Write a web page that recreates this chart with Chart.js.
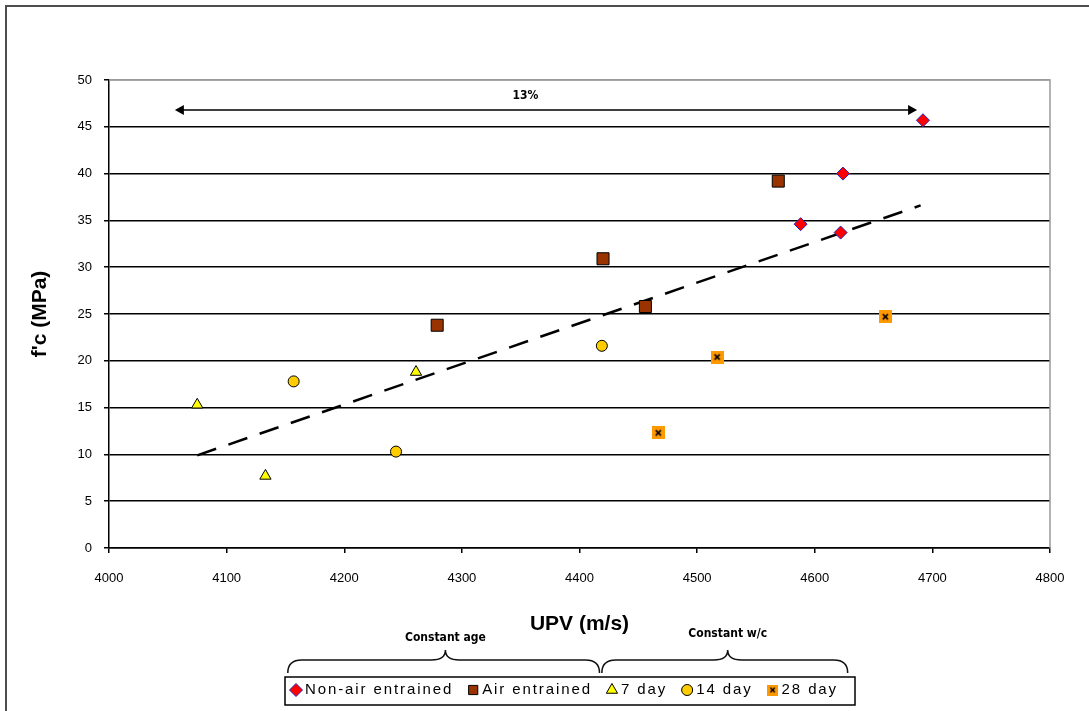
<!DOCTYPE html>
<html>
<head>
<meta charset="utf-8">
<script src="https://cdn.jsdelivr.net/npm/chart.js@4.4.0/dist/chart.umd.min.js"></script>
<style>
html, body { margin: 0; padding: 0; background: #fff; }
#wrap { width: 1089px; height: 711px; }
</style>
</head>
<body>
<div id="wrap"><canvas id="scatter-chart" width="1089" height="711"></canvas></div>
<script>
// values
var nonAirX = [4692, 4624, 4588, 4622];
var nonAirY = [45.7, 40.0, 34.6, 33.7];
var airX = [4569, 4420, 4456, 4279];
var airY = [39.2, 30.9, 25.8, 23.8];
var day7X = [4075, 4133, 4261];
var day7Y = [15.3, 7.7, 18.8];
var day14X = [4157, 4244, 4419];
var day14Y = [17.8, 10.3, 21.6];
var day28X = [4517, 4467, 4660];
var day28Y = [20.4, 12.3, 24.7];
var trendX = [4075, 4690];
var trendY = [9.9, 36.6];

var seriesNames = ['Non-air entrained', 'Air entrained', '7 day', '14 day', '28 day'];
var xTicks = [4000, 4100, 4200, 4300, 4400, 4500, 4600, 4700, 4800];
var yTicks = [0, 5, 10, 15, 20, 25, 30, 35, 40, 45, 50];

// spread arrow and the two braces under the axis
var arrowX = [4056, 4687];
var arrowY = 46.8;
var arrowText = '13%';
var arrowTextAt = [4354, 48.3];
var braceNames = ['Constant age', 'Constant w/c'];
var braceFrom = [4152, 4419];
var braceTip = [4286, 4526];
var braceTo = [4417, 4628];

function pts(xs, ys) {
	return xs.map(function (x, i) { return { x: x, y: ys[i] }; });
}

// orange square with a small x for the 28 day marks
function makeMark28(size) {
	var cv = document.createElement('canvas');
	cv.width = size;
	cv.height = size;
	var c = cv.getContext('2d');
	var m = size / 2, d = size * 0.2;
	c.fillStyle = '#ff9900';
	c.fillRect(0, 0, size, size);
	c.strokeStyle = '#000';
	c.lineWidth = 1.6;
	c.beginPath();
	c.moveTo(m - d, m - d); c.lineTo(m + d, m + d);
	c.moveTo(m + d, m - d); c.lineTo(m - d, m + d);
	c.stroke();
	return cv;
}
var mark28 = makeMark28(13);
var mark28small = makeMark28(11);

var tickFont = { family: 'Arial, "Liberation Sans", sans-serif', size: 13 };
var noteFont = 'bold 12px "Liberation Sans Narrow", "DejaVu Sans Condensed", sans-serif';

function brace(ctx, x1, xm, x2, yEnd, yMid, yTip) {
	var r = 14;
	ctx.beginPath();
	ctx.moveTo(x1, yEnd);
	ctx.quadraticCurveTo(x1, yMid, x1 + r, yMid);
	ctx.lineTo(xm - r, yMid);
	ctx.quadraticCurveTo(xm, yMid, xm, yTip);
	ctx.quadraticCurveTo(xm, yMid, xm + r, yMid);
	ctx.lineTo(x2 - r, yMid);
	ctx.quadraticCurveTo(x2, yMid, x2, yEnd);
	ctx.stroke();
}

var decorations = {
	id: 'decorations',
	beforeDraw: function (chart) {
		var ctx = chart.ctx;
		ctx.save();
		ctx.fillStyle = '#fff';
		ctx.fillRect(0, 0, chart.width, chart.height);
		ctx.restore();
	},
	beforeDatasetsDraw: function (chart) {
		var ctx = chart.ctx, a = chart.chartArea;
		ctx.save();
		ctx.strokeStyle = '#9a9a9a';
		ctx.lineWidth = 1.5;
		ctx.beginPath();
		ctx.moveTo(a.left, a.top);
		ctx.lineTo(a.right, a.top);
		ctx.lineTo(a.right, a.bottom);
		ctx.stroke();
		ctx.restore();
	},
	afterDraw: function (chart) {
		var ctx = chart.ctx, xs = chart.scales.x, ys = chart.scales.y;
		ctx.save();

		// outer frame
		ctx.strokeStyle = '#4d4d4d';
		ctx.lineWidth = 2;
		ctx.beginPath();
		ctx.moveTo(6, chart.height);
		ctx.lineTo(6, 6);
		ctx.lineTo(chart.width, 6);
		ctx.stroke();

		// 13% arrow
		var ax1 = xs.getPixelForValue(arrowX[0]), ax2 = xs.getPixelForValue(arrowX[1]);
		var ay = ys.getPixelForValue(arrowY);
		ctx.strokeStyle = '#000';
		ctx.fillStyle = '#000';
		ctx.lineWidth = 1.5;
		ctx.beginPath();
		ctx.moveTo(ax1 + 6, ay);
		ctx.lineTo(ax2 - 6, ay);
		ctx.stroke();
		ctx.beginPath();
		ctx.moveTo(ax1, ay); ctx.lineTo(ax1 + 9, ay - 5); ctx.lineTo(ax1 + 9, ay + 5); ctx.closePath();
		ctx.moveTo(ax2, ay); ctx.lineTo(ax2 - 9, ay - 5); ctx.lineTo(ax2 - 9, ay + 5); ctx.closePath();
		ctx.fill();
		ctx.font = noteFont;
		ctx.textAlign = 'center';
		ctx.textBaseline = 'middle';
		ctx.fillText(arrowText, xs.getPixelForValue(arrowTextAt[0]), ys.getPixelForValue(arrowTextAt[1]));

		// braces
		ctx.lineWidth = 1.5;
		ctx.strokeStyle = '#111';
		for (var i = 0; i < braceNames.length; i++) {
			var b1 = xs.getPixelForValue(braceFrom[i]);
			var bm = xs.getPixelForValue(braceTip[i]);
			var b2 = xs.getPixelForValue(braceTo[i]);
			brace(ctx, b1, bm, b2, 673, 660, 650);
			ctx.fillText(braceNames[i], bm, i === 0 ? 638 : 634);
		}

		// legend, letter spacing chosen so the box spans about 570px
		ctx.font = '15px Arial, "Liberation Sans", sans-serif';
		ctx.letterSpacing = '0px';
		var boxW = 570, gap = 14, markW = 15;
		var plain = 0, chars = 0;
		seriesNames.forEach(function (n) { plain += ctx.measureText(n).width; chars += n.length; });
		var spacing = Math.max(0, (boxW - 8 - seriesNames.length * (markW + gap) - plain) / chars);
		ctx.letterSpacing = spacing.toFixed(2) + 'px';
		var widths = seriesNames.map(function (n) { return ctx.measureText(n).width; });
		var lx = 570 - boxW / 2, ly = 690;
		ctx.lineWidth = 1.5;
		ctx.strokeStyle = '#000';
		ctx.strokeRect(lx, 677, boxW, 28);
		var x = lx + 5;
		for (var k = 0; k < seriesNames.length; k++) {
			var ds = chart.data.datasets[k];
			ctx.fillStyle = ds.backgroundColor || '#000';
			ctx.strokeStyle = ds.borderColor || '#000';
			ctx.lineWidth = ds.borderWidth || 0;
			Chart.helpers.drawPoint(ctx, {
				pointStyle: k === 4 ? mark28small : ds.pointStyle,
				radius: Math.min(ds.pointRadius, 6.5),
				rotation: 0,
				borderWidth: ds.borderWidth || 0
			}, x + 6, ly);
			ctx.fillStyle = '#000';
			ctx.textAlign = 'left';
			ctx.fillText(seriesNames[k], x + markW, ly);
			x += markW + widths[k] + gap;
		}
		ctx.restore();
	}
};

var grafic = document.getElementById('scatter-chart').getContext('2d');

var myScatter = new Chart(grafic, {
	type: 'scatter',
	data: {
		datasets: [
		{
			label: seriesNames[0],
			data: pts(nonAirX, nonAirY),
			pointStyle: 'rectRot',
			pointRadius: 6.5,
			backgroundColor: '#ff0000',
			borderColor: '#2222bb',
			borderWidth: 1
		},
		{
			label: seriesNames[1],
			data: pts(airX, airY),
			pointStyle: 'rect',
			pointRadius: 8.5,
			backgroundColor: '#993300',
			borderColor: '#000',
			borderWidth: 1
		},
		{
			label: seriesNames[2],
			data: pts(day7X, day7Y),
			pointStyle: 'triangle',
			pointRadius: 6.5,
			backgroundColor: '#ffff00',
			borderColor: '#000',
			borderWidth: 1
		},
		{
			label: seriesNames[3],
			data: pts(day14X, day14Y),
			pointStyle: 'circle',
			pointRadius: 5.5,
			backgroundColor: '#ffcc00',
			borderColor: '#000',
			borderWidth: 1
		},
		{
			label: seriesNames[4],
			data: pts(day28X, day28Y),
			pointStyle: mark28,
			pointRadius: 6,
			backgroundColor: '#ff9900',
			borderWidth: 0
		},
		{
			label: 'trend',
			data: pts(trendX, trendY),
			showLine: true,
			pointRadius: 0,
			borderColor: '#000',
			borderWidth: 2.5,
			borderDash: [20, 13]
		}
		]
	},
	options: {
		responsive: false,
		animation: false,
		layout: { padding: { left: 0, right: 39, top: 80, bottom: 0 } },
		plugins: {
			legend: { display: false },
			tooltip: { enabled: false }
		},
		scales: {
			x: {
				type: 'linear',
				min: 4000,
				max: 4800,
				afterBuildTicks: function (s) { s.ticks = xTicks.map(function (v) { return { value: v }; }); },
				afterFit: function (s) { s.height = 163; },
				grid: { drawOnChartArea: false, drawTicks: true, tickLength: 5, tickColor: '#000', lineWidth: 1.5 },
				border: { color: '#000', width: 1.5 },
				ticks: {
					color: '#000',
					font: tickFont,
					padding: 18,
					maxRotation: 0,
					callback: function (v) { return String(v); }
				},
				title: {
					display: true,
					text: 'UPV (m/s)',
					color: '#000',
					font: { family: 'Arial, "Liberation Sans", sans-serif', size: 21, weight: 'bold' },
					padding: { top: 0, bottom: 74 }
				}
			},
			y: {
				min: 0,
				max: 50,
				afterBuildTicks: function (s) { s.ticks = yTicks.map(function (v) { return { value: v }; }); },
				afterFit: function (s) { s.width = 109; },
				grid: {
					color: function (c) { return c.tick && c.tick.value === 50 ? '#9a9a9a' : '#000'; },
					tickColor: '#000',
					tickLength: 5,
					lineWidth: 1.5
				},
				border: { color: '#000', width: 1.5 },
				ticks: {
					color: '#000',
					font: tickFont,
					padding: 12,
					callback: function (v) { return String(v); }
				},
				title: {
					display: true,
					text: "f'c (MPa)",
					color: '#000',
					font: { family: 'Arial, "Liberation Sans", sans-serif', size: 21, weight: 'bold' },
					padding: { top: 28, bottom: 0 }
				}
			}
		}
	},
	plugins: [decorations]
});
</script>
</body>
</html>
